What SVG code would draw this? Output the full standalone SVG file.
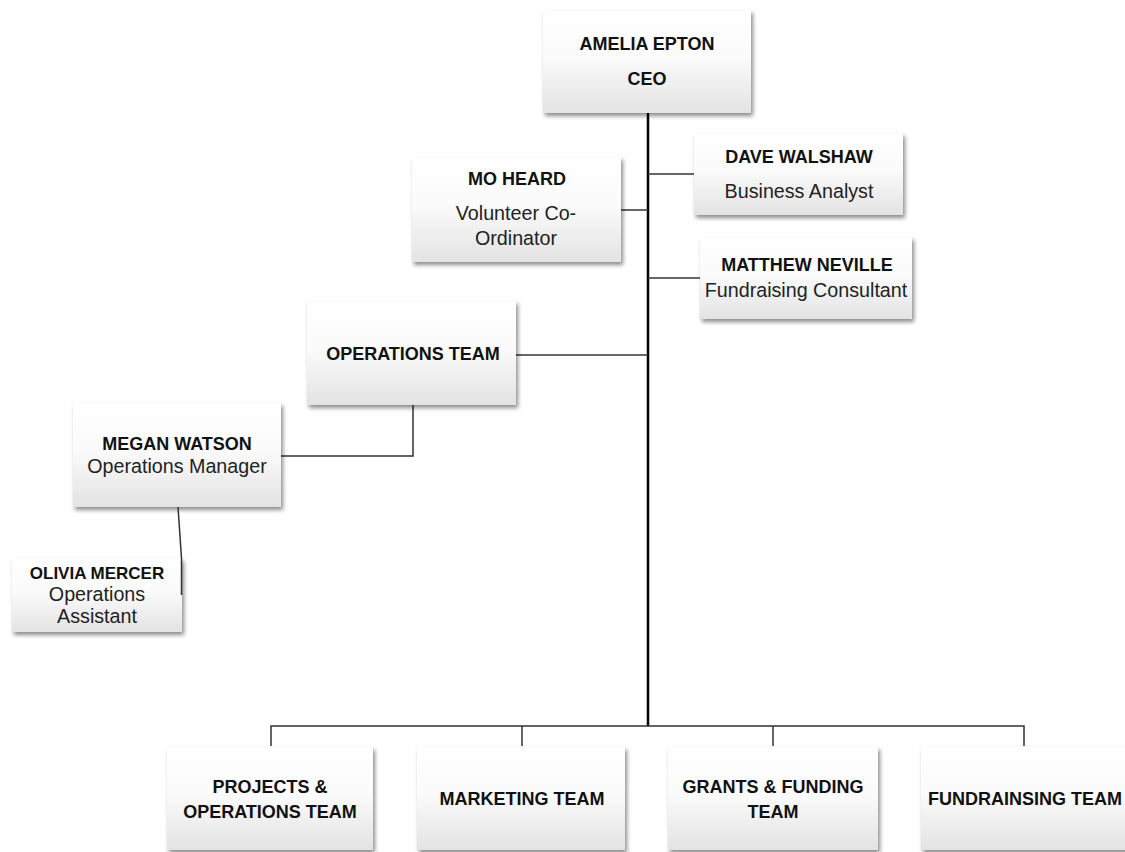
<svg xmlns="http://www.w3.org/2000/svg" width="1125" height="852" viewBox="0 0 1125 852">
<defs>
<linearGradient id="g" x1="0" y1="0" x2="0" y2="1">
<stop offset="0" stop-color="#ffffff"/>
<stop offset="0.45" stop-color="#fbfbfb"/>
<stop offset="1" stop-color="#e3e3e3"/>
</linearGradient>
<filter id="sh" x="-10%" y="-10%" width="125%" height="130%">
<feDropShadow dx="2" dy="3" stdDeviation="2" flood-color="#000" flood-opacity="0.45"/>
</filter>
</defs>
<style>
.box{fill:url(#g);filter:url(#sh);}
.t{font-family:"Liberation Sans",Arial,sans-serif;font-weight:bold;font-size:18px;fill:#111;text-anchor:middle;}
.s{font-family:"Liberation Sans",Arial,sans-serif;font-size:19.7px;fill:#222;text-anchor:middle;}
.ln{stroke:#333;stroke-width:1.5;fill:none;}
.main{stroke:#000;stroke-width:2.5;fill:none;}
</style>
<rect width="1125" height="852" fill="#ffffff"/>
<g id="connectors">
<line class="main" x1="648" y1="113" x2="648" y2="726"/>
<line class="ln" x1="648" y1="174" x2="694" y2="174"/>
<line class="ln" x1="621" y1="210" x2="648" y2="210"/>
<line class="ln" x1="648" y1="278" x2="700" y2="278"/>
<line class="ln" x1="516" y1="355" x2="648" y2="355"/>
<polyline class="ln" points="413,405 413,456 281,456"/>
<polyline class="ln" points="271,746 271,726 1024,726 1024,746"/>
<line class="ln" x1="522" y1="726" x2="522" y2="746"/>
<line class="ln" x1="773" y1="726" x2="773" y2="746"/>
</g>
<g id="ceo">
<rect class="box" x="543" y="10" width="208" height="103"/>
<text class="t" x="647" y="50">AMELIA EPTON</text>
<text class="t" x="647" y="85">CEO</text>
</g>
<g id="dave">
<rect class="box" x="694" y="133" width="209" height="82"/>
<text class="t" x="799" y="163">DAVE WALSHAW</text>
<text class="s" x="799" y="198">Business Analyst</text>
</g>
<g id="mo">
<rect class="box" x="412" y="157" width="209" height="105"/>
<text class="t" x="517" y="185">MO HEARD</text>
<text class="s" x="516" y="220">Volunteer Co-</text>
<text class="s" x="516" y="245">Ordinator</text>
</g>
<g id="matthew">
<rect class="box" x="700" y="237" width="212" height="82"/>
<text class="t" x="807" y="271">MATTHEW NEVILLE</text>
<text class="s" x="806" y="297">Fundraising Consultant</text>
</g>
<g id="ops">
<rect class="box" x="307" y="301" width="209" height="104"/>
<text class="t" x="413" y="360">OPERATIONS TEAM</text>
</g>
<g id="megan">
<rect class="box" x="73" y="403" width="208" height="104"/>
<text class="t" x="177" y="450">MEGAN WATSON</text>
<text class="s" x="177" y="473">Operations Manager</text>
</g>
<g id="olivia">
<rect class="box" x="12" y="558" width="170" height="74"/>
<text class="t" x="97" y="579" style="font-size:17px">OLIVIA MERCER</text>
<text class="s" x="97" y="601">Operations</text>
<text class="s" x="97" y="623">Assistant</text>
</g>
<g id="olivia-link">
<polyline class="ln" points="178,507 181.5,558 181.5,595"/>
</g>
<g id="projects">
<rect class="box" x="167" y="747" width="206" height="103"/>
<text class="t" x="270" y="793">PROJECTS &amp;</text>
<text class="t" x="270" y="818">OPERATIONS TEAM</text>
</g>
<g id="marketing">
<rect class="box" x="417" y="747" width="208" height="103"/>
<text class="t" x="522" y="805">MARKETING TEAM</text>
</g>
<g id="grants">
<rect class="box" x="668" y="747" width="210" height="103"/>
<text class="t" x="773" y="793">GRANTS &amp; FUNDING</text>
<text class="t" x="773" y="818">TEAM</text>
</g>
<g id="fundraising">
<rect class="box" x="921" y="747" width="210" height="103"/>
<text class="t" x="1025" y="805">FUNDRAINSING TEAM</text>
</g>
</svg>
